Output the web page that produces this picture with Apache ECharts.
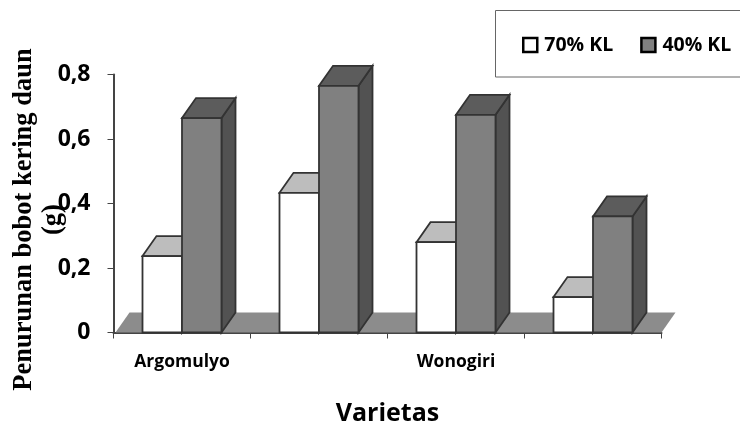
<!DOCTYPE html>
<html><head><meta charset="utf-8">
<style>html,body{margin:0;padding:0;background:#fff}#c{width:740px;height:423px}</style>
<script src="https://cdn.jsdelivr.net/npm/echarts@6/dist/echarts.min.js"></script>
</head><body><div id="c"></div>
<script>
const categories = ['Argomulyo', '', 'Wonogiri', ''];
const kl70 = [0.237, 0.433, 0.28, 0.11];
const kl40 = [0.665, 0.765, 0.675, 0.36];
const yTicks = { 0: '0', 0.2: '0,2', 0.4: '0,4', 0.6: '0,6', 0.8: '0,8' };
const DX = 14, DY = 20, BAR_W = 39.5, INK = '#333';

function poly(points, fill, stroke) {
  return { type: 'polygon', shape: { points },
    style: { fill, stroke: stroke || INK, lineWidth: stroke === 'none' ? 0 : 1.8 } };
}
function bar3d(front, top, side, shift) {
  return function (params, api) {
    const p = api.coord([api.value(0), api.value(1)]);
    const b = api.coord([api.value(0), 0]);
    const x0 = p[0] + shift * BAR_W, x1 = x0 + BAR_W, y = p[1], yb = b[1];
    return { type: 'group', children: [
      poly([[x1, yb], [x1 + DX, yb - DY], [x1 + DX, y - DY], [x1, y]], side),
      poly([[x0, y], [x0 + DX, y - DY], [x1 + DX, y - DY], [x1, y]], top),
      poly([[x0, yb], [x0, y], [x1, y], [x1, yb]], front)
    ] };
  };
}
function floor(params, api) {
  const c = params.coordSys, x = c.x, w = c.width, y = c.y + c.height;
  return poly([[x + 2, y], [x + DX + 2, y - DY], [x + w + DX, y - DY], [x + w, y]], '#8c8c8c', 'none');
}
const pairs = a => a.map((v, i) => [i, v]);

const chart = echarts.init(document.getElementById('c'), null, { renderer: 'canvas' });
chart.setOption({
  animation: false,
  backgroundColor: '#fff',
  grid: { left: 113.5, right: 78.5, top: 74.5, bottom: 90.5, outerBoundsMode: 'none' },
  graphic: [{ type: 'rect', z: -1, shape: { x: 495.5, y: 10.5, width: 250, height: 66.5 },
    style: { fill: '#fff', stroke: '#666', lineWidth: 1 } }],
  legend: {
    left: 517, top: 30, width: 223, orient: 'horizontal', itemWidth: 14, itemHeight: 14, itemGap: 27, icon: 'rect',
    textStyle: { fontFamily: 'Open Sans', fontWeight: 'bold', fontSize: 19.5, color: '#000', padding: [0, 0, 0, 2] },
    data: [
      { name: '70% KL', itemStyle: { color: '#fff', borderColor: '#000', borderWidth: 2.5 } },
      { name: '40% KL', itemStyle: { color: '#808080', borderColor: '#000', borderWidth: 2.5 } }
    ]
  },
  xAxis: {
    type: 'category', data: categories,
    name: 'Varietas', nameLocation: 'middle', nameGap: 69,
    nameTextStyle: { fontFamily: 'Open Sans', fontWeight: 'bold', fontSize: 25, color: '#000' },
    axisLine: { lineStyle: { color: '#444', width: 2 } },
    axisTick: { show: true, alignWithLabel: false, length: 6, lineStyle: { color: '#444' } },
    axisLabel: { interval: 0, margin: 21, fontFamily: 'Open Sans', fontWeight: 'bold', fontSize: 17.5, color: '#000' }
  },
  yAxis: {
    type: 'value', min: 0, max: 0.8, interval: 0.2,
    name: 'Penurunan bobot kering daun\n(g)', nameLocation: 'middle', nameGap: 46, nameRotate: 90, nameMoveOverlap: false,
    nameTextStyle: { fontFamily: 'Liberation Serif', fontWeight: 'bold', fontSize: 26.5, lineHeight: 29, color: '#000', padding: [0, 32, 0, 0] },
    splitLine: { show: false },
    axisLine: { show: true, lineStyle: { color: '#444', width: 2 } },
    axisTick: { show: true, length: 6, lineStyle: { color: '#444' } },
    axisLabel: { margin: 23, padding: [4, 0, 0, 0], fontFamily: 'Open Sans', fontWeight: 'bold', fontSize: 23, color: '#000',
      formatter: v => yTicks[v] !== undefined ? yTicks[v] : String(v).replace('.', ',') }
  },
  series: [
    { type: 'custom', name: 'floor', silent: true, renderItem: floor, data: [[0, 0]], encode: { x: 0, y: 1 } },
    { type: 'custom', name: '70% KL', renderItem: bar3d('#ffffff', '#bdbdbd', '#bdbdbd', -1),
      data: pairs(kl70), encode: { x: 0, y: 1 }, itemStyle: { color: '#fff' } },
    { type: 'custom', name: '40% KL', renderItem: bar3d('#808080', '#5c5c5c', '#525252', 0),
      data: pairs(kl40), encode: { x: 0, y: 1 }, itemStyle: { color: '#808080' } }
  ]
});
</script></body></html>
